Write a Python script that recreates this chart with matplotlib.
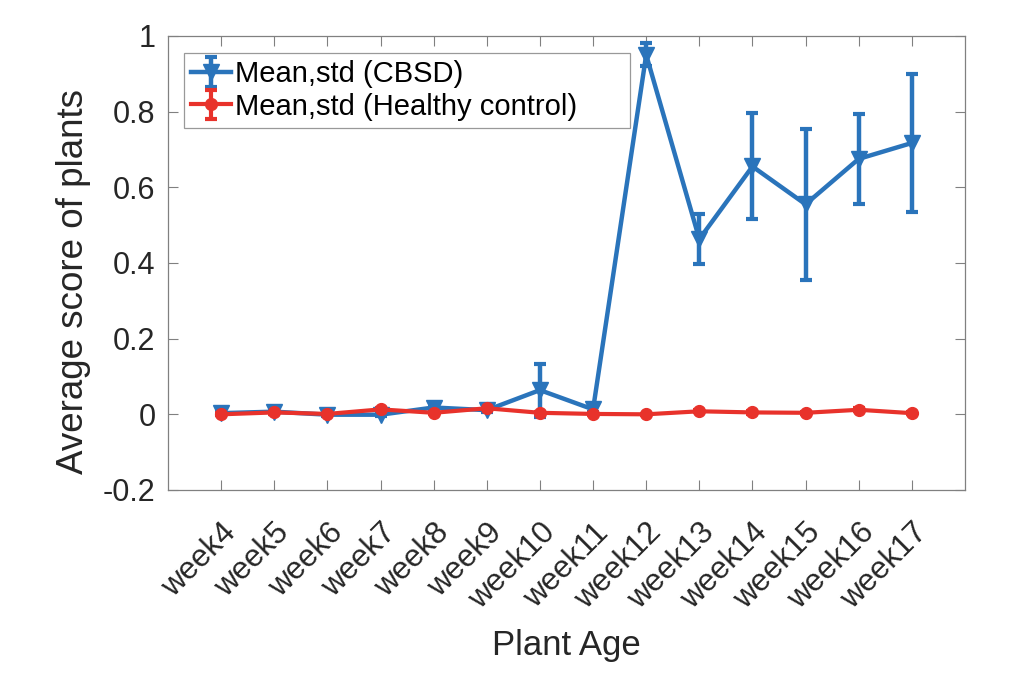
import numpy as np
import matplotlib.pyplot as plt
from matplotlib.ticker import FuncFormatter

plt.rcParams['font.family'] = ['Liberation Sans', 'DejaVu Sans']

weeks = ['week4', 'week5', 'week6', 'week7', 'week8', 'week9', 'week10',
         'week11', 'week12', 'week13', 'week14', 'week15', 'week16', 'week17']

# media y desviacion estandar por semana
cbsd_mean = [0.003, 0.007, -0.001, -0.001, 0.018, 0.011, 0.064,
             0.013, 0.950, 0.463, 0.655, 0.555, 0.675, 0.717]
cbsd_std = [0.004, 0.005, 0.003, 0.003, 0.007, 0.005, 0.070,
            0.008, 0.030, 0.066, 0.140, 0.200, 0.118, 0.183]

healthy_mean = [0.000, 0.005, 0.001, 0.013, 0.004, 0.016, 0.004,
                0.001, 0.000, 0.008, 0.005, 0.004, 0.012, 0.003]
healthy_std = [0.003, 0.003, 0.003, 0.004, 0.003, 0.004, 0.003,
               0.002, 0.002, 0.003, 0.003, 0.003, 0.004, 0.003]

azul = '#2a74bb'
rojo = '#e8322b'

x = np.arange(len(weeks))

fig = plt.figure(figsize=(10.27, 6.88), dpi=100)
ax = fig.add_axes([0.1636, 0.2878, 0.776, 0.66])

ax.errorbar(x, cbsd_mean, yerr=cbsd_std, color=azul, marker='v', markersize=11,
            linewidth=3.2, elinewidth=3.2, capsize=4, capthick=3.0,
            label='Mean,std (CBSD)')
ax.errorbar(x, healthy_mean, yerr=healthy_std, color=rojo, marker='o', markersize=8.5,
            linewidth=3.0, elinewidth=3.0, capsize=4, capthick=3.0,
            label='Mean,std (Healthy control)')

ax.set_xlim(-1, len(weeks))
ax.set_ylim(-0.2, 1)
ax.set_xticks(x)
ax.set_xticklabels(weeks, rotation=45, ha='right', rotation_mode='anchor')
ax.set_yticks(np.arange(-0.2, 1.01, 0.2))
ax.yaxis.set_major_formatter(FuncFormatter(lambda v, p: f'{v:g}' if abs(v) > 1e-9 else '0'))

ax.tick_params(direction='in', top=True, right=True, length=7, width=0.8,
               color='#808080', labelcolor='#262626')
ax.tick_params(axis='y', labelsize=22, pad=9)
ax.tick_params(axis='x', labelsize=22.5, pad=20)
for s in ax.spines.values():
    s.set_color('#808080')
    s.set_linewidth(0.9)

ax.set_xlabel('Plant Age', fontsize=25, color='#262626', labelpad=10)
ax.set_ylabel('Average score of plants', fontsize=26.5, color='#262626')
ax.yaxis.set_label_coords(-0.097, 0.46)

# leyenda con caja ancha como en MATLAB
leg = ax.legend(loc='upper left', bbox_to_anchor=(0.02, 0.0, 0.56, 0.9626),
                mode='expand', fontsize=21, frameon=True, fancybox=False,
                borderpad=0.25, handlelength=1.35, handletextpad=0.15,
                labelspacing=0.15, borderaxespad=0)
leg.get_frame().set_edgecolor('#808080')
leg.get_frame().set_linewidth(0.9)

fig.savefig('out.png', dpi=100)
